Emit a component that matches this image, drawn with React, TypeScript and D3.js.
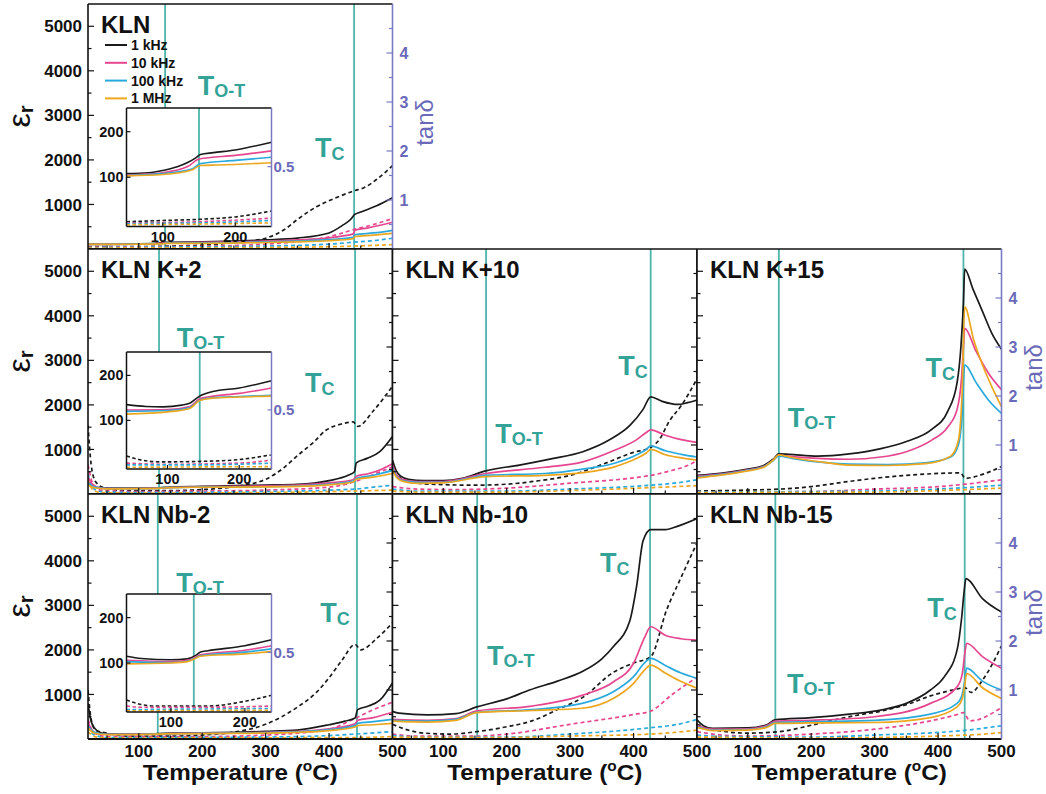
import React from 'react';
import * as d3 from 'd3';

type P = [number, number];

// ---------- shared labels / ticks ----------
const FREQS = ['1 kHz', '10 kHz', '100 kHz', '1 MHz'];
const COLORS = ['#1a1a1a', '#e6468f', '#2aa9dd', '#eda71f'];
const TEMP_DOMAIN: P = [20, 500];
const EPS_DOMAIN: P = [0, 5500];
const TAN_DOMAIN: P = [0, 5];
const TEMP_TICKS = [100, 200, 300, 400, 500];
const EPS_TICKS = [1000, 2000, 3000, 4000, 5000];
const TAN_TICKS = [1, 2, 3, 4];
const INSET_TICKS = [100, 200];
const INSET_EPS_DOMAIN: P = [-8, 252];
const INSET_TAN_DOMAIN: P = [0, 0.99];

// ---------- panels ----------
const PANEL_TITLES = ['KLN', 'KLN K+2', 'KLN K+10', 'KLN K+15', 'KLN Nb-2', 'KLN Nb-10', 'KLN Nb-15'];
const PANEL_ROWS = [0, 1, 1, 1, 2, 2, 2];
const PANEL_COLS = [0, 0, 1, 2, 0, 1, 2];
const T_OT = [141.5, 132, 167.5, 149, 130, 153.5, 143.5];
const T_C = [439.5, 441, 427, 440, 444, 426, 442];
// label anchor points in data space [temperature, eps]
const TOT_LABEL: P[] = [[193, 3457], [160, 3300], [182, 1145], [163, 1504], [159, 3300], [169, 1661], [162, 1033]];
const TC_LABEL: P[] = [[378, 2065], [362, 2290], [376, 2671], [380, 2626], [386, 2626], [347, 3749], [383, 2738]];

// KLN
const KLN_EPS: P[][] = [
  [[20, 110], [50, 107], [100, 115], [130, 132], [142, 150], [200, 160], [250, 177], [300, 205], [350, 245], [400, 360], [420, 520], [435, 680], [440, 770], [450, 830], [475, 970], [500, 1150]],
  [[20, 105], [50, 105], [100, 110], [130, 122], [142, 138], [200, 148], [250, 160], [300, 180], [350, 205], [400, 250], [420, 290], [438, 340], [441, 420], [460, 470], [500, 600]],
  [[20, 104], [50, 104], [100, 108], [135, 118], [145, 130], [200, 137], [250, 145], [300, 160], [350, 180], [400, 210], [438, 260], [441, 320], [470, 360], [500, 420]],
  [[20, 103], [50, 103], [100, 107], [135, 116], [145, 126], [200, 128], [250, 133], [300, 145], [350, 160], [400, 185], [438, 230], [441, 280], [470, 310], [500, 350]],
];
const KLN_TAN: P[][] = [
  [[20, 0.05], [100, 0.05], [150, 0.06], [200, 0.08], [250, 0.13], [300, 0.22], [330, 0.4], [350, 0.6], [380, 0.86], [410, 1.04], [440, 1.19], [455, 1.25], [475, 1.42], [500, 1.7]],
  [[20, 0.04], [150, 0.05], [250, 0.07], [300, 0.1], [350, 0.15], [400, 0.25], [440, 0.4], [470, 0.5], [500, 0.62]],
  [[20, 0.03], [150, 0.04], [300, 0.06], [400, 0.1], [440, 0.14], [470, 0.17], [500, 0.22]],
  [[20, 0.02], [300, 0.03], [440, 0.06], [500, 0.09]],
];
// KLN K+2
const K2_EPS: P[][] = [
  [[20, 250], [25, 180], [35, 145], [50, 134], [100, 130], [132, 140], [150, 155], [200, 170], [250, 188], [300, 200], [350, 215], [400, 300], [430, 420], [440, 500], [443, 700], [460, 800], [480, 950], [500, 1290]],
  [[20, 380], [25, 250], [35, 150], [50, 124], [100, 124], [132, 132], [150, 146], [250, 172], [350, 200], [400, 250], [438, 320], [443, 400], [460, 450], [480, 540], [500, 680]],
  [[20, 250], [30, 160], [50, 120], [100, 122], [132, 128], [150, 145], [200, 153], [250, 157], [350, 180], [400, 220], [438, 290], [443, 350], [470, 420], [500, 530]],
  [[20, 200], [30, 140], [50, 115], [100, 120], [132, 126], [150, 144], [200, 152], [250, 155], [350, 170], [400, 205], [438, 270], [443, 330], [470, 380], [500, 460]],
];
const K2_TAN: P[][] = [
  [[20, 1.4], [25, 0.6], [32, 0.25], [45, 0.13], [80, 0.07], [150, 0.07], [200, 0.09], [250, 0.15], [300, 0.3], [330, 0.55], [350, 0.78], [375, 1.05], [395, 1.3], [420, 1.43], [438, 1.47], [445, 1.38], [470, 1.7], [500, 2.2]],
  [[20, 0.6], [28, 0.2], [40, 0.08], [100, 0.05], [200, 0.06], [300, 0.08], [400, 0.14], [440, 0.25], [470, 0.4], [500, 0.55]],
  [[20, 0.4], [28, 0.12], [40, 0.05], [100, 0.03], [300, 0.05], [440, 0.1], [470, 0.14], [500, 0.18]],
  [[20, 0.3], [28, 0.08], [40, 0.03], [100, 0.02], [300, 0.03], [440, 0.06], [500, 0.08]],
];
// KLN K+10
const K10_EPS: P[][] = [
  [[20, 760], [26, 520], [33, 400], [45, 330], [70, 300], [100, 300], [130, 350], [167, 520], [220, 650], [270, 790], [320, 950], [360, 1200], [395, 1550], [415, 1900], [427, 2180], [445, 2080], [470, 2010], [485, 2050], [500, 2110]],
  [[20, 650], [26, 440], [35, 330], [60, 280], [100, 280], [167, 460], [260, 600], [320, 720], [370, 980], [405, 1220], [420, 1380], [427, 1440], [450, 1320], [475, 1220], [500, 1160]],
  [[20, 600], [26, 400], [35, 300], [60, 260], [100, 260], [167, 420], [260, 460], [320, 560], [370, 690], [405, 880], [420, 1000], [427, 1080], [450, 970], [475, 890], [500, 830]],
  [[20, 550], [26, 380], [35, 290], [60, 240], [100, 250], [167, 390], [260, 420], [320, 480], [370, 610], [405, 800], [420, 920], [427, 1000], [450, 880], [475, 810], [500, 760]],
];
const K10_TAN: P[][] = [
  [[20, 0.45], [30, 0.35], [45, 0.26], [80, 0.2], [150, 0.18], [200, 0.2], [250, 0.27], [300, 0.38], [350, 0.6], [400, 0.85], [427, 0.95], [440, 1.1], [457, 1.5], [475, 1.8], [500, 2.35]],
  [[20, 0.15], [60, 0.1], [120, 0.09], [200, 0.12], [300, 0.22], [400, 0.33], [427, 0.38], [460, 0.48], [485, 0.58], [500, 0.68]],
  [[20, 0.1], [60, 0.06], [200, 0.06], [300, 0.1], [427, 0.18], [470, 0.23], [500, 0.29]],
  [[20, 0.06], [60, 0.04], [200, 0.04], [300, 0.07], [427, 0.13], [500, 0.17]],
];
// KLN K+15
const K15_EPS: P[][] = [
  [[20, 420], [60, 470], [100, 560], [125, 640], [140, 780], [149, 900], [165, 890], [210, 850], [260, 900], [310, 1020], [350, 1180], [390, 1450], [415, 1850], [430, 2500], [436, 3300], [440, 4300], [442, 5050], [455, 4600], [470, 4100], [485, 3600], [500, 3250]],
  [[20, 400], [60, 450], [100, 540], [125, 620], [140, 760], [149, 870], [170, 840], [210, 800], [260, 780], [310, 830], [350, 950], [390, 1210], [415, 1500], [430, 1900], [437, 2600], [440, 3300], [442, 3720], [460, 3200], [480, 2700], [500, 2340]],
  [[20, 380], [60, 440], [100, 530], [125, 610], [140, 750], [149, 850], [170, 800], [210, 720], [260, 670], [320, 660], [380, 700], [420, 830], [432, 1100], [438, 1800], [442, 2900], [460, 2500], [480, 2100], [500, 1810]],
  [[20, 360], [60, 430], [100, 520], [125, 600], [140, 760], [149, 880], [170, 820], [210, 730], [260, 650], [320, 640], [380, 680], [420, 850], [432, 1200], [438, 2300], [442, 4200], [456, 3470], [470, 2900], [485, 2400], [500, 1960]],
];
const K15_TAN: P[][] = [
  [[20, 0.06], [100, 0.08], [150, 0.1], [200, 0.15], [250, 0.24], [300, 0.32], [360, 0.39], [435, 0.43], [443, 0.32], [470, 0.4], [500, 0.56]],
  [[20, 0.04], [200, 0.05], [300, 0.1], [400, 0.15], [443, 0.2], [500, 0.29]],
  [[20, 0.04], [300, 0.06], [443, 0.13], [500, 0.18]],
  [[20, 0.03], [300, 0.04], [443, 0.09], [500, 0.12]],
];
// KLN Nb-2
const NB2_EPS: P[][] = [
  [[20, 800], [24, 450], [30, 250], [40, 140], [50, 113], [100, 107], [120, 110], [130, 120], [140, 127], [200, 140], [250, 151], [300, 170], [350, 200], [400, 320], [425, 400], [441, 470], [445, 660], [460, 730], [480, 870], [500, 1260]],
  [[20, 400], [25, 220], [35, 120], [50, 105], [100, 103], [130, 112], [140, 118], [250, 138], [350, 170], [400, 230], [441, 340], [445, 420], [470, 480], [500, 600]],
  [[20, 300], [30, 150], [50, 103], [100, 101], [130, 110], [140, 116], [250, 131], [350, 160], [400, 210], [441, 300], [445, 350], [470, 390], [500, 440]],
  [[20, 250], [30, 130], [50, 98], [100, 100], [130, 108], [140, 115], [250, 125], [350, 150], [400, 190], [441, 270], [445, 300], [470, 320], [500, 350]],
];
const NB2_TAN: P[][] = [
  [[20, 1.0], [25, 0.4], [32, 0.18], [50, 0.12], [80, 0.06], [150, 0.06], [200, 0.08], [250, 0.14], [300, 0.3], [350, 0.65], [380, 0.95], [400, 1.25], [420, 1.6], [441, 1.93], [450, 1.82], [475, 2.05], [500, 2.37]],
  [[20, 0.4], [30, 0.12], [50, 0.05], [200, 0.05], [300, 0.08], [350, 0.12], [400, 0.2], [441, 0.42], [470, 0.6], [500, 0.75]],
  [[20, 0.25], [30, 0.08], [50, 0.03], [300, 0.04], [400, 0.07], [441, 0.1], [500, 0.15]],
  [[20, 0.15], [30, 0.05], [50, 0.02], [441, 0.03], [500, 0.05]],
];
// KLN Nb-10
const NB10_EPS: P[][] = [
  [[20, 620], [30, 580], [75, 540], [120, 570], [153, 720], [200, 900], [236, 1100], [280, 1300], [320, 1520], [350, 1800], [368, 2070], [394, 2650], [405, 3450], [415, 4450], [427, 4700], [450, 4700], [470, 4780], [500, 4950]],
  [[20, 440], [75, 420], [120, 460], [153, 630], [240, 740], [319, 980], [368, 1280], [400, 1700], [418, 2300], [427, 2520], [450, 2330], [475, 2250], [500, 2220]],
  [[20, 420], [75, 400], [120, 440], [153, 600], [240, 660], [319, 800], [368, 1060], [400, 1400], [418, 1720], [427, 1810], [450, 1650], [475, 1480], [500, 1360]],
  [[20, 400], [75, 380], [120, 420], [153, 590], [240, 640], [319, 690], [368, 910], [400, 1250], [418, 1560], [427, 1660], [450, 1480], [475, 1290], [500, 1140]],
];
const NB10_TAN: P[][] = [
  [[20, 0.3], [40, 0.2], [70, 0.12], [110, 0.1], [153, 0.15], [200, 0.25], [240, 0.37], [280, 0.6], [320, 0.85], [368, 1.36], [400, 1.55], [427, 1.68], [452, 2.63], [475, 3.3], [500, 4.0]],
  [[20, 0.1], [60, 0.06], [150, 0.06], [200, 0.1], [300, 0.3], [400, 0.5], [427, 0.57], [460, 0.9], [500, 1.26]],
  [[20, 0.07], [60, 0.04], [200, 0.04], [300, 0.1], [427, 0.23], [470, 0.3], [500, 0.4]],
  [[20, 0.04], [200, 0.03], [300, 0.06], [427, 0.1], [500, 0.18]],
];
// KLN Nb-15
const NB15_EPS: P[][] = [
  [[20, 430], [30, 300], [45, 240], [100, 250], [130, 320], [143, 430], [200, 480], [260, 560], [310, 650], [350, 800], [388, 1100], [410, 1400], [430, 2000], [437, 2700], [441, 3300], [444, 3600], [470, 3150], [500, 2850]],
  [[20, 300], [45, 220], [100, 230], [130, 300], [143, 400], [200, 420], [300, 500], [388, 800], [430, 1170], [438, 1450], [442, 1900], [445, 2150], [470, 1850], [500, 1590]],
  [[20, 280], [45, 200], [100, 210], [130, 280], [143, 370], [200, 390], [300, 420], [388, 560], [430, 800], [438, 1000], [442, 1300], [445, 1590], [470, 1300], [500, 1100]],
  [[20, 260], [45, 190], [100, 200], [130, 260], [143, 350], [200, 360], [300, 370], [388, 480], [430, 720], [438, 900], [442, 1200], [445, 1470], [470, 1150], [500, 910]],
];
const NB15_TAN: P[][] = [
  [[20, 0.3], [50, 0.18], [100, 0.12], [150, 0.15], [200, 0.28], [230, 0.37], [270, 0.48], [310, 0.57], [350, 0.7], [388, 0.88], [430, 1.02], [442, 1.05], [452, 0.95], [470, 1.2], [500, 1.9]],
  [[20, 0.15], [60, 0.08], [100, 0.06], [200, 0.1], [300, 0.2], [388, 0.37], [430, 0.5], [440, 0.54], [450, 0.37], [500, 0.64]],
  [[20, 0.08], [60, 0.05], [200, 0.04], [300, 0.08], [445, 0.18], [500, 0.27]],
  [[20, 0.04], [200, 0.02], [445, 0.08], [500, 0.13]],
];

const PANEL_EPS = [KLN_EPS, K2_EPS, K10_EPS, K15_EPS, NB2_EPS, NB10_EPS, NB15_EPS];
const PANEL_TAN = [KLN_TAN, K2_TAN, K10_TAN, K15_TAN, NB2_TAN, NB10_TAN, NB15_TAN];

// ---------- insets (first column) ----------
const INSET_PANELS = [0, 1, 4];
const INSET_X_DOMAINS: P[] = [[50, 250], [43, 245], [40, 236]];
const INSET_TOT = [150, 145, 131];
const KLN_IN_EPS: P[][] = [
  [[50, 108], [80, 110], [100, 115], [120, 123], [135, 133], [145, 142], [152, 150], [170, 154], [200, 160], [250, 177]],
  [[50, 105], [100, 110], [135, 124], [150, 140], [200, 148], [250, 158]],
  [[50, 104], [100, 108], [140, 118], [152, 130], [200, 137], [250, 144]],
  [[50, 103], [100, 106], [140, 116], [152, 126], [175, 127], [200, 128], [250, 132]],
];
const KLN_IN_TAN: P[][] = [
  [[50, 0.04], [100, 0.05], [150, 0.06], [200, 0.08], [250, 0.13]],
  [[50, 0.03], [150, 0.04], [250, 0.07]],
  [[50, 0.025], [150, 0.03], [250, 0.05]],
  [[50, 0.015], [150, 0.02], [250, 0.03]],
];
const K2_IN_EPS: P[][] = [
  [[43, 135], [70, 131], [94, 130], [120, 134], [131, 138], [145, 154], [163, 164], [200, 172], [245, 188]],
  [[43, 123], [100, 124], [130, 130], [145, 148], [160, 153], [200, 160], [245, 172]],
  [[43, 120], [100, 122], [130, 128], [145, 145], [160, 150], [200, 153], [245, 156]],
  [[43, 114], [100, 119], [130, 126], [145, 144], [160, 149], [200, 152], [245, 154]],
];
const K2_IN_TAN: P[][] = [
  [[43, 0.11], [60, 0.08], [90, 0.06], [150, 0.065], [200, 0.08], [245, 0.12]],
  [[43, 0.05], [100, 0.04], [200, 0.05], [245, 0.075]],
  [[43, 0.035], [150, 0.035], [245, 0.05]],
  [[43, 0.015], [245, 0.02]],
];
const NB2_IN_EPS: P[][] = [
  [[40, 115], [60, 110], [100, 107], [122, 109], [133, 116], [140, 124], [150, 127], [200, 138], [236, 151]],
  [[40, 106], [100, 103], [122, 106], [133, 113], [140, 118], [200, 128], [236, 138]],
  [[40, 103], [100, 101], [122, 104], [133, 111], [140, 116], [200, 124], [236, 131]],
  [[40, 98], [100, 100], [122, 103], [133, 110], [140, 115], [200, 120], [236, 125]],
];
const NB2_IN_TAN: P[][] = [
  [[40, 0.1], [55, 0.07], [80, 0.05], [150, 0.05], [200, 0.09], [236, 0.14]],
  [[40, 0.05], [60, 0.04], [150, 0.04], [236, 0.05]],
  [[40, 0.02], [236, 0.03]],
  [[40, 0.01], [236, 0.015]],
];
const INSET_EPS = [KLN_IN_EPS, K2_IN_EPS, NB2_IN_EPS];
const INSET_TAN = [KLN_IN_TAN, K2_IN_TAN, NB2_IN_TAN];

// ---------- layout ----------
const LEFT = 88;
const TOP = 4;
const PW = 304.5;
const PH = 245;
const INSET_LEFT = 38.5;
const INSET_W = 145;
const INSET_TOPS = [104, 103, 100];
const INSET_HS = [118.5, 117, 118];
const TEAL_LINE = '#4db5ab';
const TEAL_TEXT = '#33a297';
const PURPLE = '#7a7ac2';
const PURPLE_TEXT = '#6a6ab8';
const FONT = '"Liberation Sans", Arial, Helvetica, sans-serif';

function Panel({ i }: { i: number }) {
  const r = PANEL_ROWS[i];
  const c = PANEL_COLS[i];
  const x0 = LEFT + c * PW;
  const y0 = TOP + r * PH;
  const xs = d3.scaleLinear().domain(TEMP_DOMAIN).range([x0, x0 + PW]);
  const ye = d3.scaleLinear().domain(EPS_DOMAIN).range([y0 + PH, y0]);
  const yt = d3.scaleLinear().domain(TAN_DOMAIN).range([y0 + PH, y0]);
  const lineE = d3.line<P>().x(d => xs(d[0])).y(d => ye(d[1])).curve(d3.curveMonotoneX);
  const lineT = d3.line<P>().x(d => xs(d[0])).y(d => yt(d[1])).curve(d3.curveMonotoneX);
  const hasTanAxis = c === 2 || i === 0;
  const clipId = `clip${i}`;
  const minorX = d3.range(50, 500, 50);
  const minorE = d3.range(500, 5500, 500);
  const minorT = d3.range(0.5, 5, 0.5);
  const insetIdx = INSET_PANELS.indexOf(i);

  let inset = null;
  if (insetIdx >= 0) {
    const ix0 = x0 + INSET_LEFT;
    const iy0 = y0 + INSET_TOPS[insetIdx];
    const ih = INSET_HS[insetIdx];
    const ixs = d3.scaleLinear().domain(INSET_X_DOMAINS[insetIdx]).range([ix0, ix0 + INSET_W]);
    const iye = d3.scaleLinear().domain(INSET_EPS_DOMAIN).range([iy0 + ih, iy0]);
    const iyt = d3.scaleLinear().domain(INSET_TAN_DOMAIN).range([iy0 + ih, iy0]);
    const ilE = d3.line<P>().x(d => ixs(d[0])).y(d => iye(d[1])).curve(d3.curveMonotoneX);
    const ilT = d3.line<P>().x(d => ixs(d[0])).y(d => iyt(d[1])).curve(d3.curveMonotoneX);
    const iclip = `iclip${i}`;
    inset = (
      <g>
        <defs>
          <clipPath id={iclip}><rect x={ix0} y={iy0} width={INSET_W} height={ih} /></clipPath>
        </defs>
        <rect x={ix0} y={iy0} width={INSET_W} height={ih} fill="#fff" />
        <g clipPath={`url(#${iclip})`}>
          <line x1={ixs(INSET_TOT[insetIdx])} x2={ixs(INSET_TOT[insetIdx])} y1={iy0} y2={iy0 + ih} stroke={TEAL_LINE} strokeWidth={1.8} />
          {INSET_TAN[insetIdx].map((s, k) => (
            <path key={'it' + k} d={ilT(s) || ''} fill="none" stroke={COLORS[k]} strokeWidth={1.6} strokeDasharray="3.5 2.5" />
          ))}
          {INSET_EPS[insetIdx].map((s, k) => (
            <path key={'ie' + k} d={ilE(s) || ''} fill="none" stroke={COLORS[k]} strokeWidth={1.6} />
          ))}
        </g>
        {INSET_TICKS.map(t => (
          <g key={'ix' + t}>
            <line x1={ixs(t)} x2={ixs(t)} y1={iy0 + ih} y2={iy0 + ih - 4} stroke="#111" strokeWidth={1.2} />
            <text x={ixs(t)} y={iy0 + ih + 15} textAnchor="middle" fontSize={14.5} fontWeight="bold" fill="#111">{t}</text>
          </g>
        ))}
        {INSET_TICKS.map(t => (
          <g key={'iy' + t}>
            <line x1={ix0} x2={ix0 + 4} y1={iye(t)} y2={iye(t)} stroke="#111" strokeWidth={1.2} />
            <text x={ix0 - 3} y={iye(t)} dy="0.35em" textAnchor="end" fontSize={14.5} fontWeight="bold" fill="#111">{t}</text>
          </g>
        ))}
        <line x1={ix0 + INSET_W} x2={ix0 + INSET_W - 4} y1={iyt(0.5)} y2={iyt(0.5)} stroke={PURPLE} strokeWidth={1.2} />
        <text x={ix0 + INSET_W + 2} y={iyt(0.5)} dy="0.35em" fontSize={15} fontWeight="bold" fill={PURPLE_TEXT}>0.5</text>
        <line x1={ix0} x2={ix0 + INSET_W} y1={iy0} y2={iy0} stroke="#111" strokeWidth={1.5} />
        <line x1={ix0} x2={ix0 + INSET_W} y1={iy0 + ih} y2={iy0 + ih} stroke="#111" strokeWidth={1.5} />
        <line x1={ix0} x2={ix0} y1={iy0} y2={iy0 + ih} stroke="#111" strokeWidth={1.5} />
        <line x1={ix0 + INSET_W} x2={ix0 + INSET_W} y1={iy0} y2={iy0 + ih} stroke={PURPLE} strokeWidth={1.5} />
      </g>
    );
  }

  const [totT, totE] = TOT_LABEL[i];
  const [tcT, tcE] = TC_LABEL[i];
  const axisColR = hasTanAxis ? PURPLE : '#111';

  return (
    <g>
      <defs>
        <clipPath id={clipId}><rect x={x0} y={y0} width={PW} height={PH} /></clipPath>
      </defs>
      <rect x={x0} y={y0} width={PW} height={PH} fill="#fff" />
      <g clipPath={`url(#${clipId})`}>
        <line x1={xs(T_OT[i])} x2={xs(T_OT[i])} y1={y0} y2={y0 + PH} stroke={TEAL_LINE} strokeWidth={1.8} />
        <line x1={xs(T_C[i])} x2={xs(T_C[i])} y1={y0} y2={y0 + PH} stroke={TEAL_LINE} strokeWidth={1.8} />
        {PANEL_TAN[i].map((s, k) => (
          <path key={'t' + k} d={lineT(s) || ''} fill="none" stroke={COLORS[k]} strokeWidth={1.7} strokeDasharray="4 3" />
        ))}
        {PANEL_EPS[i].map((s, k) => (
          <path key={'e' + k} d={lineE(s) || ''} fill="none" stroke={COLORS[k]} strokeWidth={1.7} />
        ))}
      </g>
      {inset}
      {/* ticks */}
      {minorX.map(t => (
        <line key={'bx' + t} x1={xs(t)} x2={xs(t)} y1={y0 + PH} y2={y0 + PH - (t % 100 === 0 ? 6 : 3.5)} stroke="#111" strokeWidth={1.2} />
      ))}
      {minorE.map(t => (
        <line key={'le' + t} x1={x0} x2={x0 + (t % 1000 === 0 ? 6 : 3.5)} y1={ye(t)} y2={ye(t)} stroke="#111" strokeWidth={1.2} />
      ))}
      {minorT.map(t => (
        <line key={'rt' + t} x1={x0 + PW} x2={x0 + PW - (t % 1 === 0 ? 6 : 3.5)} y1={yt(t)} y2={yt(t)} stroke={axisColR} strokeWidth={1.2} />
      ))}
      {/* frame */}
      <line x1={x0} x2={x0 + PW} y1={y0} y2={y0} stroke="#111" strokeWidth={1.6} />
      <line x1={x0} x2={x0 + PW} y1={y0 + PH} y2={y0 + PH} stroke="#111" strokeWidth={1.8} />
      <line x1={x0} x2={x0} y1={y0} y2={y0 + PH} stroke="#111" strokeWidth={1.6} />
      <line x1={x0 + PW} x2={x0 + PW} y1={y0} y2={y0 + PH} stroke={axisColR} strokeWidth={1.6} />
      {/* title */}
      <text x={x0 + 13} y={y0 + 28.5} fontSize={24} fontWeight="bold" fill="#111">{PANEL_TITLES[i]}</text>
      {/* transition labels */}
      <text x={xs(totT)} y={ye(totE)} fontSize={27} fontWeight="bold" fill={TEAL_TEXT}>
        T<tspan fontSize={18} dy={2}>O-T</tspan>
      </text>
      <text x={xs(tcT)} y={ye(tcE)} fontSize={27} fontWeight="bold" fill={TEAL_TEXT}>
        T<tspan fontSize={18} dy={3}>C</tspan>
      </text>
      {/* left axis labels */}
      {c === 0 && EPS_TICKS.map(t => (
        <text key={'el' + t} x={x0 - 6} y={ye(t)} dy="0.36em" textAnchor="end" fontSize={17} fontWeight="bold" fill="#111">{t}</text>
      ))}
      {c === 0 && (
        <text transform={`translate(${x0 - 58},${y0 + PH / 2 - 10}) rotate(-90)`} textAnchor="middle" fontSize={32} fill="#111">
          ε<tspan fontSize={20} fontWeight="bold" dy={3}>r</tspan>
        </text>
      )}
      {/* right axis labels */}
      {hasTanAxis && TAN_TICKS.map(t => (
        <text key={'tl' + t} x={x0 + PW + 7} y={yt(t)} dy="0.36em" fontSize={16} fontWeight="bold" fill={PURPLE_TEXT}>{t}</text>
      ))}
      {hasTanAxis && (
        <text transform={`translate(${x0 + PW + 40},${y0 + PH / 2 - 4}) rotate(-90)`} textAnchor="middle" fontSize={24} fill={PURPLE_TEXT}>tanδ</text>
      )}
      {/* bottom axis labels */}
      {r === 2 && TEMP_TICKS.map(t => (
        <text key={'xl' + t} x={xs(t)} y={y0 + PH + 18} textAnchor="middle" fontSize={17} fontWeight="bold" fill="#111">{t}</text>
      ))}
      {r === 2 && (
        <text x={x0 + PW / 2} y={y0 + PH + 41} textAnchor="middle" fontSize={22} fontWeight="bold" fill="#111" textLength={195} lengthAdjust="spacingAndGlyphs">
          Temperature (<tspan fontSize={14} dy={-9}>o</tspan><tspan dy={9}>C)</tspan>
        </text>
      )}
      {/* legend */}
      {i === 0 && FREQS.map((f, k) => (
        <g key={f}>
          <line x1={x0 + 17} x2={x0 + 39} y1={y0 + 41 + k * 17.8} y2={y0 + 41 + k * 17.8} stroke={COLORS[k]} strokeWidth={2} />
          <text x={x0 + 43} y={y0 + 41 + k * 17.8} dy="0.36em" fontSize={14} fontWeight="bold" fill="#111">{f}</text>
        </g>
      ))}
    </g>
  );
}

export default function App() {
  return (
    <svg
      width={1046}
      height={794}
      style={{ position: 'absolute', left: 0, top: 0, background: '#fff', fontFamily: FONT }}
    >
      <rect x={0} y={0} width={1046} height={794} fill="#fff" />
      {PANEL_TITLES.map((_, i) => <Panel key={i} i={i} />)}
    </svg>
  );
}
